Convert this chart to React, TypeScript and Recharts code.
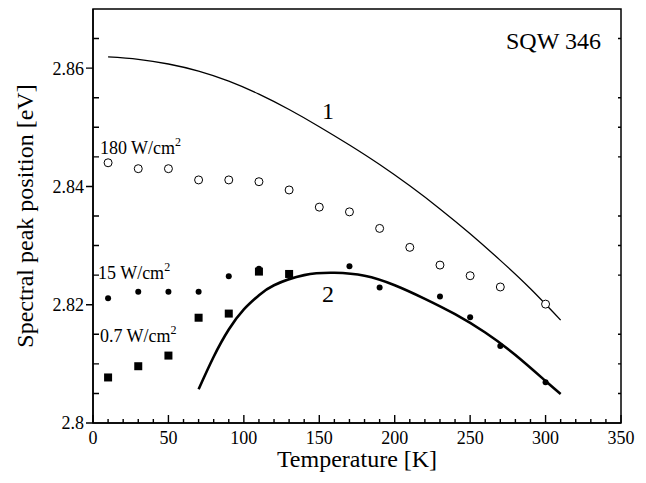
import React from "react";
import { ComposedChart, Line, Scatter, XAxis, YAxis, ReferenceDot } from "recharts";

// curve 1 (thin line)
const curve1T = [10, 30, 50, 70, 90, 110, 130, 150, 170, 190, 210, 230, 250, 270, 290, 310];
const curve1E = [2.8619, 2.8615, 2.8607, 2.8595, 2.8578, 2.8556, 2.853, 2.8501, 2.847, 2.8437, 2.8401, 2.8362, 2.832, 2.8275, 2.8227, 2.8174];

// curve 2 (thick line)
const curve2T = [70, 80, 90, 100, 110, 120, 140, 160, 180, 200, 220, 240, 260, 280, 300, 310];
const curve2E = [2.8057, 2.8112, 2.8158, 2.8192, 2.8216, 2.8233, 2.825, 2.8254, 2.8249, 2.8233, 2.821, 2.8184, 2.8153, 2.8115, 2.8071, 2.8049];

// 180 W/cm2, open circles
const p180T = [10, 30, 50, 70, 90, 110, 130, 150, 170, 190, 210, 230, 250, 270, 300];
const p180E = [2.844, 2.843, 2.843, 2.8411, 2.8411, 2.8408, 2.8394, 2.8365, 2.8357, 2.8329, 2.8297, 2.8267, 2.8249, 2.823, 2.8201];

// 15 W/cm2, filled circles
const p15T = [10, 30, 50, 70, 90, 110, 170, 190, 230, 250, 270, 300];
const p15E = [2.8211, 2.8222, 2.8222, 2.8222, 2.8248, 2.8261, 2.8265, 2.8229, 2.8214, 2.8179, 2.813, 2.8069];

// 0.7 W/cm2, squares
const p07T = [10, 30, 50, 70, 90, 110, 130];
const p07E = [2.8077, 2.8096, 2.8114, 2.8178, 2.8185, 2.8256, 2.8252];

const X_MIN = 0;
const X_MAX = 350;
const Y_MIN = 2.8;
const Y_MAX = 2.87;

const xTicks = [0, 10, 20, 30, 40, 50, 60, 70, 80, 90, 100, 110, 120, 130, 140, 150, 160, 170, 180, 190, 200, 210, 220, 230, 240, 250, 260, 270, 280, 290, 300, 310, 320, 330, 340, 350];
const xMajor = [0, 50, 100, 150, 200, 250, 300, 350];
const yTicks = [2.8, 2.805, 2.81, 2.815, 2.82, 2.825, 2.83, 2.835, 2.84, 2.845, 2.85, 2.855, 2.86, 2.865];
const yMajor = [2.8, 2.82, 2.84, 2.86];

const zip = (t: number[], e: number[]) => t.map((v, i) => ({ t: v, e: e[i] }));

const FONT = '"Liberation Serif", "Times New Roman", serif';

const isMajor = (list: number[], v: number) => list.some((m) => Math.abs(m - v) < 1e-6);

// chart geometry
const W = 646;
const H = 483;
const M = { top: 9, right: 25, bottom: 0, left: 0 };
const Y_AXIS_W = 93;
const X_AXIS_H = 60;
const PL = M.left + Y_AXIS_W;
const PR = W - M.right;
const PT = M.top;
const PB = H - M.bottom - X_AXIS_H;
const sx = (t: number) => PL + ((t - X_MIN) / (X_MAX - X_MIN)) * (PR - PL);
const sy = (e: number) => PB - ((e - Y_MIN) / (Y_MAX - Y_MIN)) * (PB - PT);

const openCircle = (p: any) => <circle cx={p.cx} cy={p.cy} r={4} fill="#fff" stroke="#000" strokeWidth={1} />;
const dotCircle = (p: any) => <circle cx={p.cx} cy={p.cy} r={3} fill="#000" />;
const square = (p: any) => <rect x={p.cx - 4} y={p.cy - 4} width={8} height={8} fill="#000" />;

const txt = (s: string, anchor: string, size: number, sup?: boolean) => (props: any) => {
  const { x, y } = props.viewBox;
  return (
    <text x={x} y={y} textAnchor={anchor} fontSize={size} fontFamily={FONT} fill="#000">
      {s}
      {sup && (
        <tspan fontSize={12} dy={-8}>
          2
        </tspan>
      )}
    </text>
  );
};

// box frame and inward tick marks
function Frame() {
  const d: string[] = [];
  xTicks.forEach((t) => {
    const len = isMajor(xMajor, t) ? 8 : 4;
    d.push(`M${sx(t)},${PB}V${PB - len}`);
  });
  yTicks.forEach((e) => {
    if (isMajor(yMajor, e)) d.push(`M${PL - 7},${sy(e)}H${PL}`);
    else {
      d.push(`M${PL},${sy(e)}H${PL + 6}`);
      d.push(`M${PR},${sy(e)}H${PR - 3}`);
    }
  });
  return (
    <svg width={W} height={H} style={{ position: "absolute", left: 0, top: 0, pointerEvents: "none" }}>
      <rect x={PL} y={PT} width={PR - PL} height={PB - PT} fill="none" stroke="#000" strokeWidth={1.5} />
      <path d={d.join("")} stroke="#000" strokeWidth={1.4} fill="none" />
    </svg>
  );
}

export default function App() {
  return (
    <div style={{ position: "absolute", left: 0, top: 0, width: W, height: H, background: "#fff" }}>
      <ComposedChart width={W} height={H} margin={M}>
        <XAxis
          type="number"
          dataKey="t"
          domain={[X_MIN, X_MAX]}
          ticks={xTicks}
          interval={0}
          tick={{ fontSize: 18, fontFamily: FONT, fill: "#000" }}
          tickFormatter={(v: number) => (isMajor(xMajor, v) ? String(v) : "")}
          tickLine={false}
          tickSize={0}
          tickMargin={8}
          height={X_AXIS_H}
          axisLine={{ stroke: "#000", strokeWidth: 1.5 }}
          label={{
            content: () => (
              <text x={357} y={467} textAnchor="middle" fontSize={24} fontFamily={FONT} fill="#000">
                Temperature [K]
              </text>
            ),
          }}
        />
        <YAxis
          type="number"
          dataKey="e"
          domain={[Y_MIN, Y_MAX]}
          ticks={yTicks}
          interval={0}
          tick={{ fontSize: 18, fontFamily: FONT, fill: "#000" }}
          tickFormatter={(v: number) => (isMajor(yMajor, v) ? (v === 2.8 ? "2.8" : v.toFixed(2)) : "")}
          tickLine={false}
          tickSize={0}
          tickMargin={9}
          width={Y_AXIS_W}
          axisLine={{ stroke: "#000", strokeWidth: 1.5 }}
          label={{
            content: () => (
              <text
                x={33}
                y={216}
                transform="rotate(-90 33 216)"
                textAnchor="middle"
                fontSize={24}
                fontFamily={FONT}
                fill="#000"
              >
                Spectral peak position [eV]
              </text>
            ),
          }}
        />
        <Line
          data={zip(curve1T, curve1E)}
          dataKey="e"
          type="natural"
          stroke="#000"
          strokeWidth={1.3}
          dot={false}
          isAnimationActive={false}
        />
        <Line
          data={zip(curve2T, curve2E)}
          dataKey="e"
          type="natural"
          stroke="#000"
          strokeWidth={2.6}
          dot={false}
          isAnimationActive={false}
        />
        <Scatter data={zip(p180T, p180E)} dataKey="e" shape={openCircle} isAnimationActive={false} />
        <Scatter data={zip(p15T, p15E)} dataKey="e" shape={dotCircle} isAnimationActive={false} />
        <Scatter data={zip(p07T, p07E)} dataKey="e" shape={square} isAnimationActive={false} />
        <ReferenceDot x={336.7} y={2.8632} r={0} stroke="none" label={txt("SQW 346", "end", 24)} />
        <ReferenceDot x={155.8} y={2.8514} r={0} stroke="none" label={txt("1", "middle", 24)} />
        <ReferenceDot x={155.8} y={2.8204} r={0} stroke="none" label={txt("2", "middle", 24)} />
        <ReferenceDot x={4.6} y={2.8455} r={0} stroke="none" label={txt("180 W/cm", "start", 18, true)} />
        <ReferenceDot x={3.3} y={2.8243} r={0} stroke="none" label={txt("15 W/cm", "start", 18, true)} />
        <ReferenceDot x={4.6} y={2.8137} r={0} stroke="none" label={txt("0.7 W/cm", "start", 18, true)} />
      </ComposedChart>
      <Frame />
    </div>
  );
}
